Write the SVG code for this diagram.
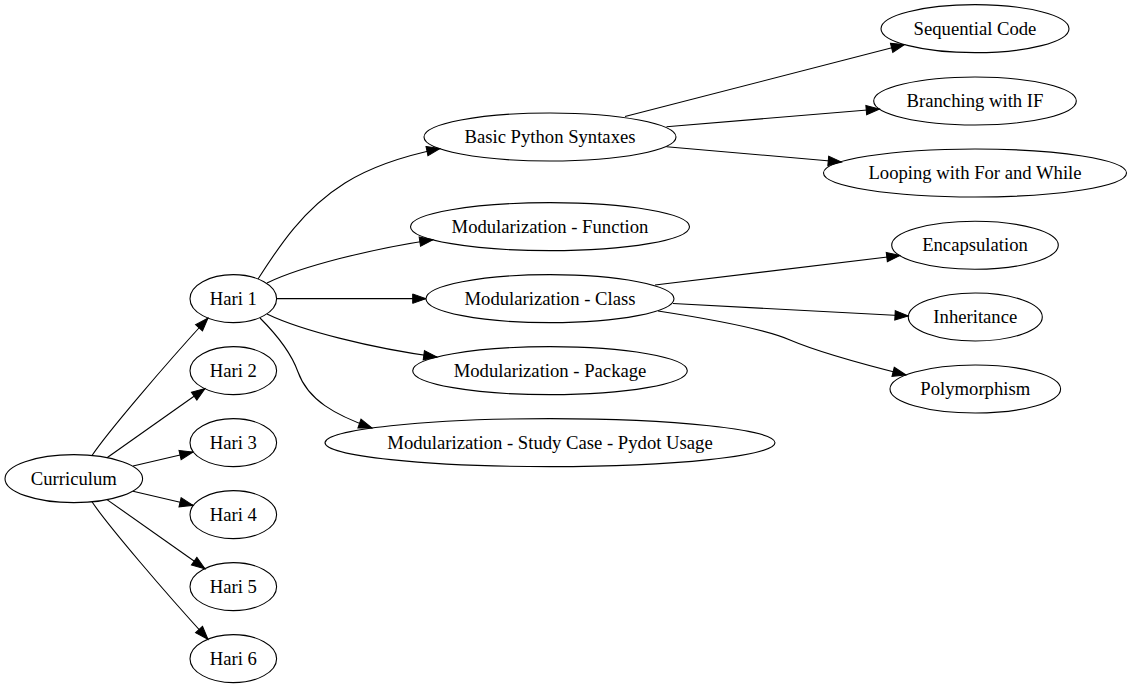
<svg xmlns="http://www.w3.org/2000/svg" width="1132" height="688" viewBox="0 0 1132 688">
<style>
.n ellipse{fill:none;stroke:#000;stroke-width:1.1}
.n text{font-family:'Liberation Serif',Tinos,'Times New Roman',Times,'DejaVu Serif',serif;font-size:18.67px;text-anchor:middle;fill:#000}
#edges path{fill:none;stroke:#000;stroke-width:1.1;marker-end:url(#ah)}
</style>
<defs>
<marker id="ah" markerUnits="userSpaceOnUse" markerWidth="15" markerHeight="11" viewBox="0 0 15 11" refX="13.8" refY="5.5" orient="auto" overflow="visible">
<path d="M0.5,0.8 L13.8,5.5 L0.5,10.2 z" fill="#000" stroke="#000" stroke-width="1"/>
</marker>
</defs>
<rect width="1132" height="688" fill="#fff"/>
<g id="edges">
<path d="M92,455.5 C107,433 164,366 208,318"/>
<path d="M107,457.7 L205,388.5"/>
<path d="M133,466 L193,452"/>
<path d="M133,491.3 L193,505.3"/>
<path d="M107,499.6 L205,568.8"/>
<path d="M92,501.8 C107,524.3 164,591.3 208,639.3"/>
<path d="M258,279 C278,248 302,210 345,183 C372,166 404,156 440,148.5"/>
<path d="M267,283 C300,267 370,249 433,239.7"/>
<path d="M276.7,298.67 L426,298.67"/>
<path d="M267,314 C300,330 370,348 437,357"/>
<path d="M260,318 C280,338 292,355 298,372 C308,400 335,415 372,428"/>
<path d="M625,116.5 L904.5,44.5"/>
<path d="M666.5,126.7 L879.5,109"/>
<path d="M666.5,146.7 L841.5,162"/>
<path d="M655,285 L900,255.5"/>
<path d="M673,303.5 L908.3,316"/>
<path d="M658,311 C710,319 765,329 790,340 C818,352 862,364 906,375"/>
</g>
<g id="curriculum" class="n" font-family="Liberation Serif, serif"><ellipse cx="73.8" cy="478.67" rx="68.8" ry="24"/><text x="73.8" y="484.67">Curriculum</text></g>
<g id="hari1" class="n" font-family="Liberation Serif, serif"><ellipse cx="233.3" cy="298.67" rx="43.3" ry="24"/><text x="233.3" y="304.67">Hari 1</text></g>
<g id="hari2" class="n" font-family="Liberation Serif, serif"><ellipse cx="233.3" cy="370.67" rx="43.3" ry="24"/><text x="233.3" y="376.67">Hari 2</text></g>
<g id="hari3" class="n" font-family="Liberation Serif, serif"><ellipse cx="233.3" cy="442.67" rx="43.3" ry="24"/><text x="233.3" y="448.67">Hari 3</text></g>
<g id="hari4" class="n" font-family="Liberation Serif, serif"><ellipse cx="233.3" cy="514.67" rx="43.3" ry="24"/><text x="233.3" y="520.67">Hari 4</text></g>
<g id="hari5" class="n" font-family="Liberation Serif, serif"><ellipse cx="233.3" cy="586.67" rx="43.3" ry="24"/><text x="233.3" y="592.67">Hari 5</text></g>
<g id="hari6" class="n" font-family="Liberation Serif, serif"><ellipse cx="233.3" cy="658.67" rx="43.3" ry="24"/><text x="233.3" y="664.67">Hari 6</text></g>
<g id="basic" class="n" font-family="Liberation Serif, serif"><ellipse cx="550" cy="137" rx="126" ry="24"/><text x="550" y="143">Basic Python Syntaxes</text></g>
<g id="function" class="n" font-family="Liberation Serif, serif"><ellipse cx="550" cy="226.67" rx="139.5" ry="24"/><text x="550" y="232.67">Modularization - Function</text></g>
<g id="class" class="n" font-family="Liberation Serif, serif"><ellipse cx="550" cy="298.67" rx="124" ry="24"/><text x="550" y="304.67">Modularization - Class</text></g>
<g id="package" class="n" font-family="Liberation Serif, serif"><ellipse cx="550" cy="370.67" rx="137.3" ry="24"/><text x="550" y="376.67">Modularization - Package</text></g>
<g id="studycase" class="n" font-family="Liberation Serif, serif"><ellipse cx="550" cy="442.67" rx="225" ry="24"/><text x="550" y="448.67">Modularization - Study Case - Pydot Usage</text></g>
<g id="sequential" class="n" font-family="Liberation Serif, serif"><ellipse cx="975" cy="28.67" rx="94" ry="24"/><text x="975" y="34.67">Sequential Code</text></g>
<g id="branching" class="n" font-family="Liberation Serif, serif"><ellipse cx="975" cy="101" rx="101.3" ry="24"/><text x="975" y="107">Branching with IF</text></g>
<g id="looping" class="n" font-family="Liberation Serif, serif"><ellipse cx="975" cy="173" rx="151.5" ry="24"/><text x="975" y="179">Looping with For and While</text></g>
<g id="encapsulation" class="n" font-family="Liberation Serif, serif"><ellipse cx="975" cy="245.3" rx="83.3" ry="24"/><text x="975" y="251.3">Encapsulation</text></g>
<g id="inheritance" class="n" font-family="Liberation Serif, serif"><ellipse cx="975.3" cy="317" rx="67" ry="24"/><text x="975.3" y="323">Inheritance</text></g>
<g id="polymorphism" class="n" font-family="Liberation Serif, serif"><ellipse cx="975.3" cy="389" rx="85.3" ry="24"/><text x="975.3" y="395">Polymorphism</text></g>
</svg>
